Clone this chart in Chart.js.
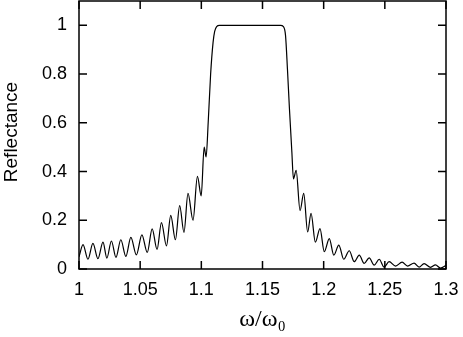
<!DOCTYPE html>
<html>
<head>
<meta charset="utf-8">
<script src="https://cdn.jsdelivr.net/npm/chart.js@4/dist/chart.umd.min.js"></script>
<style>
body { margin: 0; background: #fff; }
#box { width: 463px; height: 337px; }
</style>
</head>
<body>
<div id="box"><canvas id="chart"></canvas></div>
<script>
// ----------------------------------------------------------------------
//	reflectance spectrum
// ----------------------------------------------------------------------
const omega = [1.0000,1.0033,1.0073,1.0114,1.0155,1.0196,1.0228,1.0265,1.0302,1.0342,
	1.0383,1.0424,1.0469,1.0514,1.0558,1.0598,1.0638,1.0674,1.0715,1.0750,
	1.0788,1.0823,1.0858,1.0891,1.0932,1.0968,1.0999,1.1023,1.1039,1.1056,
	1.1076,1.1096,1.1109,1.1125,1.1149,1.1647,1.1671,1.1688,1.1704,1.1720,
	1.1740,1.1753,1.1775,1.1807,1.1837,1.1869,1.1897,1.1932,1.1970,1.2005,
	1.2046,1.2083,1.2124,1.2164,1.2209,1.2250,1.2291,1.2331,1.2372,1.2413,
	1.2454,1.2494,1.2535,1.2588,1.2641,1.2686,1.2739,1.2780,1.2821,1.2874,
	1.2914,1.2955,1.3000]

const reflectance = [0.05,0.10,0.04,0.105,0.042,0.11,0.045,0.115,0.048,0.12,
	0.052,0.13,0.058,0.14,0.068,0.165,0.08,0.19,0.095,0.22,
	0.12,0.26,0.15,0.31,0.2,0.38,0.3,0.5,0.46,0.6,
	0.8,0.93,0.975,0.995,1.0,1.0,0.995,0.96,0.82,0.66,
	0.48,0.37,0.405,0.24,0.31,0.152,0.228,0.11,0.166,0.071,
	0.125,0.057,0.098,0.04,0.075,0.03,0.057,0.023,0.046,0.016,
	0.04,0.008,0.03,0.012,0.028,0.012,0.024,0.008,0.022,0.007,
	0.017,0.004,0.015]

const x_ticks = [1,1.05,1.1,1.15,1.2,1.25,1.3]
const y_ticks = [0,0.2,0.4,0.6,0.8,1]

// ----------------------------------------------------------------------
const points = []
for (var it = 0; it < omega.length; it++)
	{
	points.push ({x: omega[it], y: reflectance[it]})
	}

// frame with inward ticks on all four sides, plus the y label
const frame_plugin = {
	id: 'frame',
	afterDraw (chart)
	{
	const ctx = chart.ctx
	const area = chart.chartArea
	const xs = chart.scales.x
	const ys = chart.scales.y
	const len = 8
	ctx.save()
	ctx.strokeStyle = '#000'
	ctx.lineWidth = 1.5
	ctx.strokeRect (area.left, area.top, area.right - area.left, area.bottom - area.top)
	ctx.beginPath()
	x_ticks.forEach (function (v)
		{
		const px = xs.getPixelForValue(v)
		ctx.moveTo (px, area.bottom)
		ctx.lineTo (px, area.bottom - len)
		ctx.moveTo (px, area.top)
		ctx.lineTo (px, area.top + len)
		})
	y_ticks.forEach (function (v)
		{
		const py = ys.getPixelForValue(v)
		ctx.moveTo (area.left, py)
		ctx.lineTo (area.left + len, py)
		ctx.moveTo (area.right, py)
		ctx.lineTo (area.right - len, py)
		})
	ctx.stroke()

	ctx.translate (17, 132)
	ctx.rotate (-Math.PI / 2)
	ctx.fillStyle = '#000'
	ctx.font = '19px "Liberation Sans"'
	ctx.textAlign = 'center'
	ctx.textBaseline = 'alphabetic'
	ctx.fillText ('Reflectance', 0, 0)
	ctx.restore()
	}
}

// ----------------------------------------------------------------------
const config = {
	type: 'line',
	data: {
		datasets: [
			{
			data: points,
			borderColor: '#000',
			borderWidth: 1.2,
			pointRadius: 0,
			cubicInterpolationMode: 'monotone',
			fill: false
			}
		]
	},
	options: {
		responsive: false,
		animation: false,
		layout: {padding: {left: 0, right: 17, top: 1, bottom: 0}},
		plugins: {legend: {display: false}, tooltip: {enabled: false}},
		scales: {
			x: {
				type: 'linear',
				min: 1,
				max: 1.3,
				grid: {display: false, drawTicks: false},
				border: {display: false},
				afterBuildTicks: function (scale)
					{
					scale.ticks = x_ticks.map(function (v) { return {value: v} })
					},
				afterFit: function (scale)
					{
					scale.height = 68
					scale.paddingLeft = 0
					scale.paddingRight = 0
					},
				ticks: {
					padding: 10,
					color: '#000',
					maxRotation: 0,
					font: {family: 'Liberation Sans', size: 18},
					callback: function (v) { return String(Number(v.toFixed(2))) }
				},
				title: {
					display: true,
					text: 'ω/ω₀',
					color: '#000',
					padding: {top: 0, bottom: 3},
					font: {family: 'Liberation Serif', size: 24}
				}
			},
			y: {
				min: 0,
				max: 1.1,
				grid: {display: false, drawTicks: false},
				border: {display: false},
				afterBuildTicks: function (scale)
					{
					scale.ticks = y_ticks.map(function (v) { return {value: v} })
					},
				afterFit: function (scale)
					{
					scale.width = 79
					scale.paddingTop = 0
					scale.paddingBottom = 0
					},
				ticks: {
					padding: 12,
					color: '#000',
					font: {family: 'Liberation Sans', size: 18},
					callback: function (v) { return String(Number(v.toFixed(1))) }
				},
				title: {display: false}
			}
		}
	},
	plugins: [frame_plugin]
}

const canvas = document.getElementById('chart')
canvas.width = 463
canvas.height = 337
const chart = new Chart(canvas, config)
</script>
</body>
</html>
